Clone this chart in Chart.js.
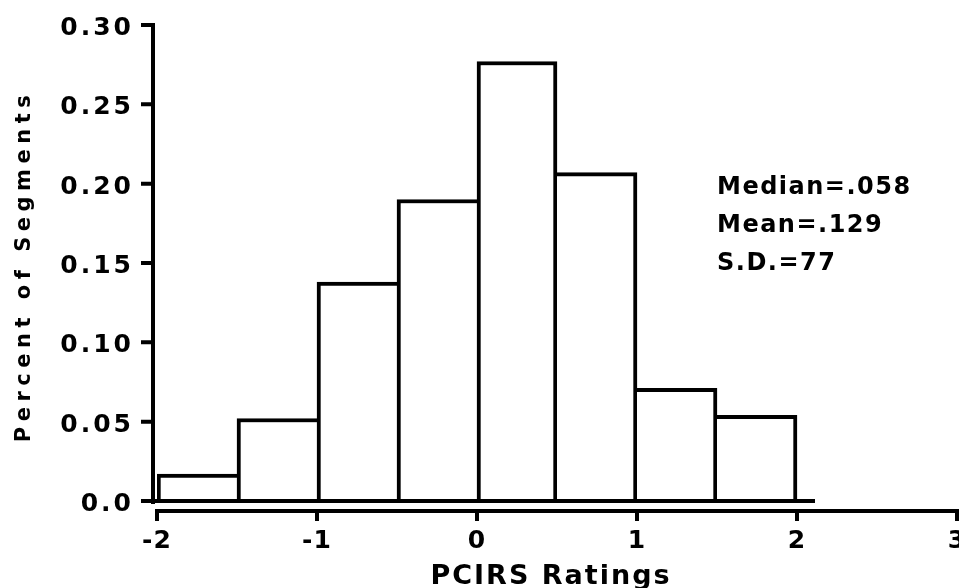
<!DOCTYPE html>
<html>
<head>
<meta charset="utf-8">
<script src="https://cdn.jsdelivr.net/npm/chart.js@4.4.0/dist/chart.umd.min.js"></script>
<style>
  html, body { margin: 0; padding: 0; background: #fff; }
  #wrap { width: 959px; height: 588px; }
</style>
</head>
<body>
<div id="wrap"><canvas id="histChart" width="959" height="588"></canvas></div>
<script>
// Data
const binCenters = [-1.75, -1.25, -0.75, -0.25, 0.25, 0.75, 1.25, 1.75];
const percentSegments = [0.017, 0.052, 0.138, 0.190, 0.277, 0.207, 0.071, 0.054];
const xTicks = [-2, -1, 0, 1, 2, 3];
const xTickLabels = ['-2', '-1', '0', '1', '2', '3'];
const yTicks = [0, 0.05, 0.10, 0.15, 0.20, 0.25, 0.30];
const yTickLabels = ['0.0', '0.05', '0.10', '0.15', '0.20', '0.25', '0.30'];
const statLines = ['Median=.058', 'Mean=.129', 'S.D.=77'];

const FONT = '"DejaVu Sans", sans-serif';
const LW = 4;

// each shared edge is drawn once, by the taller bar
function barBorder(ctx) {
  const i = ctx.dataIndex;
  const v = percentSegments[i];
  const prev = i > 0 ? percentSegments[i - 1] : -1;
  const next = i < percentSegments.length - 1 ? percentSegments[i + 1] : -1;
  return { top: LW, bottom: 0, left: v >= prev ? LW : 0, right: v > next ? LW : 0 };
}

// Axes, ticks and text drawn by hand (offset x axis like the original plot)
const axesPlugin = {
  id: 'axesPlugin',
  afterDraw(chart) {
    const { ctx, scales: { x, y } } = chart;
    const axisX = x.getPixelForValue(-2) - 4;
    const zeroY = y.getPixelForValue(0);
    const xAxisY = zeroY + 10;
    ctx.save();
    ctx.strokeStyle = '#000';
    ctx.fillStyle = '#000';
    ctx.lineWidth = LW;
    ctx.lineCap = 'square';

    // y axis + ticks
    ctx.beginPath();
    ctx.moveTo(axisX, y.getPixelForValue(0.30));
    ctx.lineTo(axisX, zeroY + 1);
    yTicks.forEach(v => {
      const py = y.getPixelForValue(v);
      ctx.moveTo(axisX - 10, py);
      ctx.lineTo(axisX, py);
    });
    // histogram baseline
    ctx.moveTo(axisX, zeroY);
    ctx.lineTo(x.getPixelForValue(2.1), zeroY);
    // x axis + ticks
    ctx.moveTo(x.getPixelForValue(-2), xAxisY);
    ctx.lineTo(x.getPixelForValue(3) + 2, xAxisY);
    xTicks.forEach(v => {
      const px = x.getPixelForValue(v);
      ctx.moveTo(px, xAxisY);
      ctx.lineTo(px, xAxisY + 8);
    });
    ctx.stroke();

    // y tick labels
    ctx.font = 'bold 25px ' + FONT;
    ctx.letterSpacing = '3px';
    ctx.textAlign = 'right';
    ctx.textBaseline = 'alphabetic';
    yTicks.forEach((v, i) => {
      ctx.fillText(yTickLabels[i], axisX - 19, y.getPixelForValue(v) + 10);
    });

    // x tick labels
    ctx.letterSpacing = '1px';
    ctx.textAlign = 'center';
    xTicks.forEach((v, i) => {
      ctx.fillText(xTickLabels[i], x.getPixelForValue(v), 548);
    });

    // x title
    ctx.font = 'bold 27px ' + FONT;
    ctx.letterSpacing = '2px';
    ctx.fillText('PCIRS Ratings', 551, 584);

    // y title
    ctx.save();
    ctx.translate(30, 266);
    ctx.rotate(-Math.PI / 2);
    ctx.font = 'bold 21px ' + FONT;
    ctx.letterSpacing = '5.5px';
    ctx.fillText('Percent of Segments', 0, 0);
    ctx.restore();

    // summary stats
    ctx.font = 'bold 24px ' + FONT;
    ctx.letterSpacing = '1.5px';
    ctx.textAlign = 'left';
    statLines.forEach((s, i) => {
      ctx.fillText(s, 717, 194 + i * 38);
    });
    ctx.restore();
  }
};

const ctx = document.getElementById('histChart').getContext('2d');
new Chart(ctx, {
  type: 'bar',
  data: {
    datasets: [{
      data: binCenters.map((c, i) => ({ x: c, y: percentSegments[i] })),
      backgroundColor: '#fff',
      borderColor: '#000',
      borderWidth: barBorder,
      borderSkipped: false,
      categoryPercentage: 1,
      barPercentage: 1,
      grouped: false
    }]
  },
  options: {
    responsive: false,
    animation: false,
    layout: { padding: { left: 157, right: 2, top: 25, bottom: 87 } },
    plugins: {
      legend: { display: false },
      tooltip: { enabled: false }
    },
    scales: {
      x: { type: 'linear', min: -2, max: 3, offset: false, display: false },
      y: { min: 0, max: 0.30, display: false }
    }
  },
  plugins: [axesPlugin]
});
</script>
</body>
</html>
